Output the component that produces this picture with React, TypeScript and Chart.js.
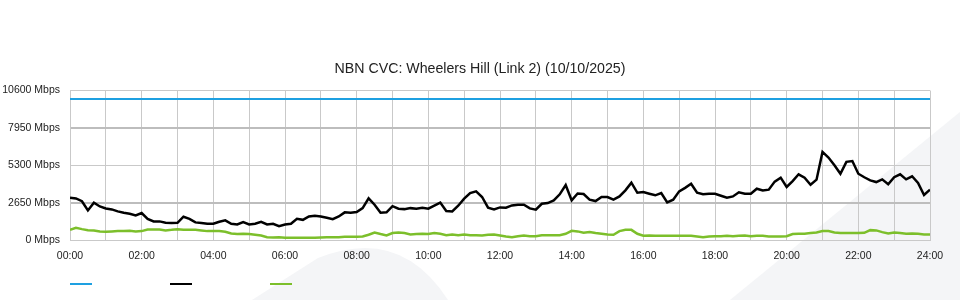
import React, { useEffect, useRef } from 'react';
import { Chart, registerables } from 'chart.js';

Chart.register(...registerables);

const TITLE = 'NBN CVC: Wheelers Hill (Link 2) (10/10/2025)';
const SAMPLE_STEP_MIN = 10;
const DAY_MINUTES = 1440;
const Y_TICKS = [0, 2650, 5300, 7950, 10600];
const X_TICK_LABELS = ['00:00', '02:00', '04:00', '06:00', '08:00', '10:00', '12:00', '14:00', '16:00', '18:00', '20:00', '22:00', '24:00'];

// Provisioned capacity (Mbps)
const CAPACITY = [10000, 10000];

// Download traffic (Mbps), one value every 10 minutes from 00:00 to 24:00
const DOWNLOAD = [
  3000, 2950, 2750, 2100, 2650, 2380,
  2240, 2170, 2030, 1930, 1860, 1740,
  1910, 1500, 1320, 1320, 1220, 1200,
  1220, 1650, 1500, 1250, 1200, 1150,
  1150, 1290, 1390, 1150, 1100, 1270,
  1100, 1150, 1290, 1100, 1150, 980,
  1100, 1150, 1500, 1430, 1670, 1720,
  1670, 1580, 1480, 1670, 1960, 1930,
  1980, 2260, 2950, 2500, 1930, 1960,
  2400, 2220, 2190, 2260, 2220, 2290,
  2220, 2430, 2650, 2050, 2030, 2430,
  2930, 3330, 3450, 3050, 2290, 2170,
  2310, 2290, 2450, 2500, 2500, 2240,
  2150, 2570, 2620, 2810, 3240, 3900,
  2810, 3300, 3260, 2860, 2760, 3050,
  3050, 2860, 3090, 3520, 4070, 3350,
  3400, 3280, 3170, 3330, 2670, 2860,
  3450, 3700, 3990, 3350, 3240, 3280,
  3280, 3140, 3000, 3090, 3380, 3280,
  3280, 3640, 3520, 3570, 4140, 4420,
  3760, 4180, 4660, 4420, 3920, 4280,
  6250, 5850, 5300, 4700, 5540, 5600,
  4700, 4450, 4230, 4110, 4300, 3950,
  4450, 4660, 4300, 4520, 4040, 3190,
  3570,
];

// Upload traffic (Mbps), one value every 10 minutes from 00:00 to 24:00
const UPLOAD = [
  720, 870, 770, 700, 680, 610,
  580, 610, 630, 630, 650, 610,
  630, 750, 750, 750, 680, 720,
  770, 720, 720, 720, 680, 630,
  630, 630, 580, 460, 420, 440,
  420, 370, 320, 200, 180, 200,
  160, 160, 160, 160, 160, 160,
  180, 200, 200, 200, 230, 230,
  230, 250, 370, 530, 420, 320,
  490, 530, 490, 390, 420, 440,
  420, 490, 440, 340, 390, 340,
  390, 340, 340, 320, 370, 390,
  320, 250, 200, 270, 320, 270,
  270, 340, 340, 340, 340, 440,
  650, 610, 510, 560, 490, 440,
  390, 370, 630, 720, 720, 440,
  300, 320, 300, 300, 300, 300,
  300, 300, 300, 250, 200, 250,
  270, 270, 300, 270, 300, 320,
  270, 300, 300, 250, 250, 250,
  270, 420, 440, 440, 490, 530,
  630, 630, 530, 490, 490, 490,
  490, 510, 700, 680, 560, 460,
  530, 490, 440, 460, 440, 390,
  390,
];

const FONT = "'Liberation Sans', Arial, Helvetica, sans-serif";
const LEGEND_SPACER = '\u2003\u2003\u2003\u2003\u2003\u2003';

const toPoints = (values: number[], step: number) => values.map((v, i) => ({ x: i * step, y: v }));

const watermark = {
  id: 'watermark',
  beforeDraw(chart: any) {
    const { ctx, width, height } = chart;
    ctx.save();
    ctx.fillStyle = '#ffffff';
    ctx.fillRect(0, 0, width, height);
    ctx.fillStyle = '#f4f5f7';
    ctx.beginPath();
    ctx.moveTo(730, height);
    ctx.lineTo(width, 112);
    ctx.lineTo(width, height);
    ctx.closePath();
    ctx.fill();
    ctx.beginPath();
    ctx.moveTo(252, height);
    ctx.lineTo(318, 258);
    ctx.quadraticCurveTo(400, 225, 448, height);
    ctx.closePath();
    ctx.fill();
    ctx.restore();
  },
};

export default function App() {
  const canvasRef = useRef<HTMLCanvasElement | null>(null);

  useEffect(() => {
    document.body.style.margin = '0';
    const canvas = canvasRef.current;
    if (!canvas) return;
    const chart = new Chart(canvas, {
      type: 'line',
      data: {
        datasets: [
          {
            label: 'Capacity',
            data: toPoints(CAPACITY, DAY_MINUTES),
            borderColor: '#1ea0e1',
            backgroundColor: '#1ea0e1',
            borderWidth: 2,
            pointRadius: 0,
            tension: 0,
          },
          {
            label: 'Download',
            data: toPoints(DOWNLOAD, SAMPLE_STEP_MIN),
            borderColor: '#000000',
            backgroundColor: '#000000',
            borderWidth: 2.5,
            pointRadius: 0,
            tension: 0,
          },
          {
            label: 'Upload',
            data: toPoints(UPLOAD, SAMPLE_STEP_MIN),
            borderColor: '#7cbf2b',
            backgroundColor: '#7cbf2b',
            borderWidth: 2.5,
            pointRadius: 0,
            tension: 0,
          },
        ],
      },
      options: {
        responsive: false,
        maintainAspectRatio: false,
        animation: false,
        events: [],
        layout: { padding: 0 },
        plugins: {
          title: {
            display: true,
            text: TITLE,
            color: '#222222',
            font: { family: FONT, size: 14.2, weight: 'normal' },
            padding: { top: 61, bottom: 12.5 },
          },
          legend: {
            display: true,
            position: 'bottom',
            align: 'start',
            fullSize: false,
            labels: {
              boxWidth: 22,
              boxHeight: 2,
              padding: 0,
              font: { family: FONT, size: 12 },
              generateLabels: (c: any) =>
                c.data.datasets.map((ds: any, i: number) => ({
                  text: LEGEND_SPACER,
                  fillStyle: ds.borderColor,
                  strokeStyle: ds.borderColor,
                  lineWidth: 0,
                  hidden: false,
                  datasetIndex: i,
                })),
            },
          },
          tooltip: { enabled: false },
        },
        scales: {
          x: {
            type: 'linear',
            min: 0,
            max: DAY_MINUTES,
            afterBuildTicks: (s: any) => {
              const t = [];
              for (let m = 0; m <= DAY_MINUTES; m += 60) t.push({ value: m });
              s.ticks = t;
            },
            afterFit: (s: any) => {
              s.height = 38;
            },
            ticks: {
              autoSkip: false,
              maxRotation: 0,
              padding: 10,
              color: '#222222',
              font: { family: FONT, size: 10.5 },
              callback: (v: any) => (Number(v) % 120 === 0 ? X_TICK_LABELS[Number(v) / 120] : ''),
            },
            grid: { color: '#c9c9c9', lineWidth: 1, drawTicks: false },
            border: { color: '#c9c9c9' },
          },
          y: {
            min: 0,
            max: 10600,
            afterBuildTicks: (s: any) => {
              s.ticks = Y_TICKS.map((v) => ({ value: v }));
            },
            afterFit: (s: any) => {
              s.width = 70;
            },
            ticks: {
              padding: 10,
              color: '#222222',
              font: { family: FONT, size: 10.5 },
              callback: (v: any) => `${v} Mbps`,
            },
            grid: {
              color: (ctx: any) => (ctx.tick && (ctx.tick.value === 2650 || ctx.tick.value === 7950) ? '#bdbdbd' : '#c9c9c9'),
              lineWidth: (ctx: any) => (ctx.tick && (ctx.tick.value === 2650 || ctx.tick.value === 7950) ? 2 : 1),
              drawTicks: false,
            },
            border: { color: '#c9c9c9' },
          },
          yRight: {
            position: 'right',
            display: true,
            min: 0,
            max: 1,
            grid: { display: false, drawTicks: false },
            ticks: { display: false },
            border: { display: false },
            afterFit: (s: any) => {
              s.width = 30;
            },
          },
        },
      },
      plugins: [watermark],
    });
    return () => chart.destroy();
  }, []);

  return (
    <div style={{ width: 960, height: 300 }}>
      <canvas ref={canvasRef} width={960} height={300} style={{ display: 'block', width: 960, height: 300 }} />
    </div>
  );
}
